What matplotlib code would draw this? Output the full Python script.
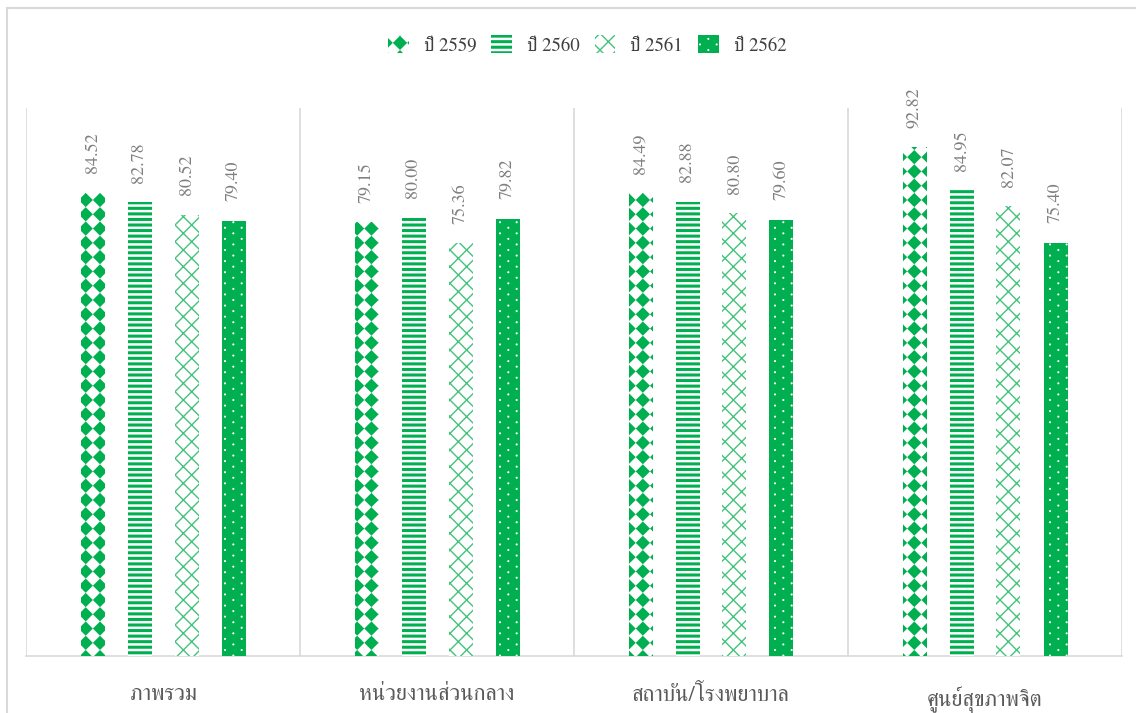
import numpy as np
import matplotlib
matplotlib.use("Agg")
import matplotlib.pyplot as plt
import matplotlib.hatch as mh
from matplotlib.path import Path
from matplotlib.patches import Rectangle

# ---------------- data ----------------
categories = ["ภาพรวม", "หน่วยงานส่วนกลาง", "สถาบัน/โรงพยาบาล", "ศูนย์สุขภาพจิต"]
series_names = ["ปี 2559", "ปี 2560", "ปี 2561", "ปี 2562"]
v2559 = [84.52, 79.15, 84.49, 92.82]
v2560 = [82.78, 80.00, 82.88, 84.95]
v2561 = [80.52, 75.36, 80.80, 82.07]
v2562 = [79.40, 79.82, 79.60, 75.40]
series_values = [v2559, v2560, v2561, v2562]

GREEN = "#00B050"
LIGHT_GREEN = "#45C27C"
GRID = "#D9D9D9"
TEXT = "#595959"
LABEL = "#7F7F7F"


# ---------------- custom hatch patterns ----------------
class DiamondCheck(mh.HatchPatternBase):
    """Rotated checkerboard of filled diamonds (triggered by 'O')."""
    def __init__(self, hatch, density):
        self.n = hatch.count('O') * 7
        self.num_vertices = (self.n + 1) ** 2 * 5 if self.n else 0

    def set_vertices_and_codes(self, vertices, codes):
        n = self.n
        h = 0.5 / n
        shape = np.array([[0, -h], [h, 0], [0, h], [-h, 0], [0, -h]])
        scodes = [Path.MOVETO, Path.LINETO, Path.LINETO, Path.LINETO, Path.CLOSEPOLY]
        parts = []
        for i in range(n + 1):
            for j in range(n + 1):
                parts.append(shape + [i / n, j / n])
        vertices[:] = np.concatenate(parts)
        codes[:] = np.tile(scodes, (n + 1) ** 2)


class SparseDots(mh.HatchPatternBase):
    """Sparse staggered small dots (triggered by '*')."""
    K = 10

    def __init__(self, hatch, density):
        c = hatch.count('*')
        self.cols = 6 * c
        self.rows = 18 * c
        if c:
            nshapes = (self.rows // 2 + 1) * (self.cols + 1) + (self.rows // 2) * self.cols
            self.num_vertices = nshapes * (self.K + 1)
        else:
            self.num_vertices = 0

    def set_vertices_and_codes(self, vertices, codes):
        r = 0.011
        t = np.linspace(0, 2 * np.pi, self.K, endpoint=False)
        shape = np.column_stack([r * np.cos(t), r * np.sin(t)])
        shape = np.vstack([shape, shape[:1]])
        scodes = [Path.MOVETO] + [Path.LINETO] * (self.K - 1) + [Path.CLOSEPOLY]
        parts = []
        for row in range(self.rows + 1):
            if row % 2 == 0:
                xs = np.arange(self.cols + 1) / self.cols
            else:
                xs = (np.arange(self.cols) + 0.5) / self.cols
            y = row / self.rows
            for x in xs:
                parts.append(shape + [x, y])
        vertices[:] = np.concatenate(parts)
        codes[:] = np.tile(scodes, len(parts))


mh._hatch_types[:] = [t for t in mh._hatch_types
                      if t not in (mh.LargeCircles, mh.Stars)] + [DiamondCheck, SparseDots]

# per series style: (face, hatch, hatch colour, hatch linewidth)
styles = [
    ("white", "O", GREEN, 0.0),
    ("white", "---", GREEN, 2.2),
    ("white", "xx", LIGHT_GREEN, 1.0),
    (GREEN, "*", "white", 0.0),
]

plt.rcParams['font.family'] = ['FreeSerif', 'DejaVu Serif']

fig = plt.figure(figsize=(11.36, 7.13), dpi=100)
ax = fig.add_axes([26 / 1136, (713 - 656) / 713, (1122 - 26) / 1136, (656 - 108) / 713])

x = np.arange(len(categories))
bar_w = 24 / 274
step = 47 / 274
handles = []
for k, (vals, name, st) in enumerate(zip(series_values, series_names, styles)):
    face, hatch, hcol, hlw = st
    plt.rcParams['hatch.linewidth'] = hlw
    bars = ax.bar(x + (k - 1.5) * step, vals, width=bar_w, color=face,
                  edgecolor=hcol, linewidth=0, hatch=hatch, label=name, zorder=3)
    for b in bars:
        if hasattr(b, 'set_hatch_linewidth'):
            b.set_hatch_linewidth(hlw)
    for b, v in zip(bars, vals):
        ax.annotate(f"{v:.2f}", (b.get_x() + b.get_width() / 2, v),
                    xytext=(0, 14), textcoords="offset points",
                    rotation=90, ha="center", va="bottom",
                    fontsize=13, color=LABEL)
    handles.append(bars)

ax.set_xlim(-0.5, len(categories) - 0.5)
ax.set_ylim(0, 100)
ax.vlines(np.arange(len(categories) + 1) - 0.5, 0, 100, colors=GRID, lw=1.2, zorder=1)

for s in ["top", "right", "left"]:
    ax.spines[s].set_visible(False)
ax.spines["bottom"].set_color(GRID)
ax.spines["bottom"].set_linewidth(1.2)
ax.set_yticks([])
ax.set_xticks(x)
ax.set_xticklabels(categories, fontsize=16, color=TEXT)
ax.tick_params(axis="x", length=0, pad=21)

plt.rcParams['hatch.linewidth'] = 1.0
leg = fig.legend(handles=handles, labels=series_names, loc="center",
                 bbox_to_anchor=(587 / 1136, 1 - 45 / 713), ncol=4, frameon=False,
                 fontsize=13.5, handlelength=1.1, handleheight=1.1,
                 handletextpad=0.8, columnspacing=0.8, labelcolor="#404040")
for h, st in zip(leg.legend_handles, styles):
    if hasattr(h, 'set_hatch_linewidth'):
        h.set_hatch_linewidth(st[3])

# outer chart border (partly outside the image)
fig.add_artist(Rectangle((7 / 1136, -0.1), 1.2, 1 - 8 / 713 + 0.1,
                         transform=fig.transFigure, fill=False,
                         edgecolor=GRID, lw=1.5, clip_on=False))

fig.savefig("out.png", dpi=100)
